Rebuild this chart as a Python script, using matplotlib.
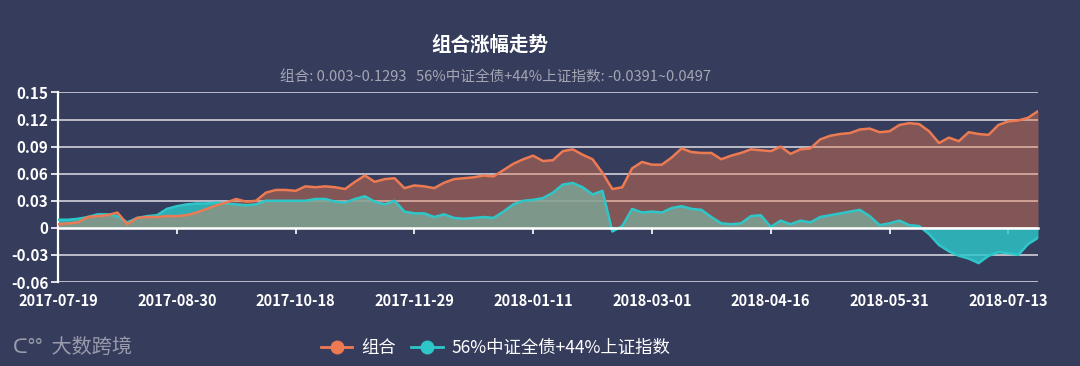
import numpy as np
import matplotlib
matplotlib.use('Agg')
import matplotlib.pyplot as plt
from matplotlib.lines import Line2D

plt.rcParams['font.family'] = ['Noto Sans CJK SC', 'DejaVu Sans']

# x-axis labels (every 12th point)
dates = ['2017-07-19', '2017-08-30', '2017-10-18', '2017-11-29', '2018-01-11',
         '2018-03-01', '2018-04-16', '2018-05-31', '2018-07-13']

# 组合
portfolio = [0.004, 0.005, 0.006, 0.012, 0.013, 0.014, 0.017, 0.004, 0.011, 0.012,
             0.012, 0.013, 0.013, 0.014, 0.017, 0.021, 0.025, 0.028, 0.032, 0.029,
             0.030, 0.039, 0.042, 0.042, 0.041, 0.046, 0.045, 0.046, 0.045, 0.043,
             0.051, 0.058, 0.051, 0.054, 0.055, 0.044, 0.047, 0.046, 0.044, 0.050,
             0.054, 0.055, 0.056, 0.058, 0.057, 0.064, 0.071, 0.076, 0.080, 0.074,
             0.075, 0.085, 0.087, 0.081, 0.076, 0.061, 0.043, 0.045, 0.066, 0.073,
             0.070, 0.070, 0.078, 0.088, 0.084, 0.083, 0.083, 0.076, 0.080, 0.083,
             0.087, 0.086, 0.085, 0.090, 0.082, 0.087, 0.088, 0.098, 0.102, 0.104,
             0.105, 0.109, 0.110, 0.106, 0.107, 0.114, 0.116, 0.115, 0.107, 0.094,
             0.100, 0.096, 0.106, 0.104, 0.103, 0.114, 0.118, 0.119, 0.122, 0.1293]

# 56%中证全债+44%上证指数
benchmark = [0.009, 0.009, 0.010, 0.012, 0.015, 0.015, 0.013, 0.006, 0.011, 0.013,
             0.014, 0.021, 0.024, 0.026, 0.027, 0.027, 0.028, 0.027, 0.026, 0.025,
             0.026, 0.030, 0.030, 0.030, 0.030, 0.030, 0.032, 0.032, 0.029, 0.028,
             0.032, 0.035, 0.029, 0.026, 0.030, 0.018, 0.016, 0.016, 0.012, 0.015,
             0.011, 0.010, 0.011, 0.012, 0.011, 0.018, 0.026, 0.030, 0.031, 0.033,
             0.039, 0.048, 0.0497, 0.045, 0.037, 0.041, -0.004, 0.002, 0.021, 0.017,
             0.018, 0.017, 0.022, 0.024, 0.021, 0.020, 0.012, 0.005, 0.004, 0.005,
             0.013, 0.014, 0.001, 0.008, 0.004, 0.008, 0.006, 0.012, 0.014, 0.016,
             0.018, 0.020, 0.013, 0.003, 0.005, 0.008, 0.003, 0.002, -0.007, -0.019,
             -0.026, -0.031, -0.034, -0.0391, -0.031, -0.027, -0.028, -0.030, -0.018, -0.011]

yticks = [-0.06, -0.03, 0, 0.03, 0.06, 0.09, 0.12, 0.15]
ylabels = ['-0.06', '-0.03', '0', '0.03', '0.06', '0.09', '0.12', '0.15']

bg = '#363c5c'
orange = '#ec7a52'
teal = '#2ec7c9'

x = np.arange(len(portfolio))
tick_idx = np.arange(0, len(portfolio), 12)

fig = plt.figure(figsize=(10.8, 3.66), dpi=100, facecolor=bg)
ax = fig.add_axes([58 / 1080, 0.2295, 980 / 1080, 0.5178], facecolor=bg)

ax.fill_between(x, benchmark, 0, color=teal, alpha=0.82, lw=0, zorder=2)
ax.fill_between(x, portfolio, 0, color=orange, alpha=0.42, lw=0, zorder=3)
ax.plot(x, benchmark, color=teal, lw=1.8, zorder=4)
ax.plot(x, portfolio, color=orange, lw=1.8, zorder=5)

ax.set_xlim(0, len(portfolio) - 1)
ax.set_ylim(-0.06, 0.15)
ax.set_yticks(yticks, labels=ylabels)
ax.grid(axis='y', color='#d2d2da', lw=1.2, zorder=1)
ax.set_axisbelow(True)

for s in ['top', 'right']:
    ax.spines[s].set_visible(False)
ax.spines['left'].set_color('white')
ax.spines['left'].set_linewidth(1.6)
ax.spines['bottom'].set_position(('data', 0))
ax.spines['bottom'].set_color('white')
ax.spines['bottom'].set_linewidth(1.8)
ax.spines['bottom'].set_zorder(6)

ax.tick_params(axis='y', colors='white', labelsize=11, length=5, width=1.2, pad=2)
for t in ax.get_yticklabels():
    t.set_fontweight('semibold')
ax.set_xticks(tick_idx)
ax.tick_params(axis='x', colors='white', length=4, width=1.2, labelbottom=False)

sec = ax.secondary_xaxis('bottom')
sec.set_xticks(tick_idx, labels=dates)
sec.tick_params(length=0, colors='white', labelsize=10.5, pad=8)
for t in sec.get_xticklabels():
    t.set_fontweight('semibold')
sec.spines['bottom'].set_visible(False)

fig.text(0.454, 0.877, '组合涨幅走势', color='white', fontsize=14,
         fontweight='bold', ha='center', va='center')
fig.text(0.459, 0.79, '组合: 0.003~0.1293   56%中证全债+44%上证指数: -0.0391~0.0497',
         color='#a4a6b2', fontsize=10.5, ha='center', va='center')

handles = [Line2D([], [], color=orange, lw=2, marker='o', markersize=9),
           Line2D([], [], color=teal, lw=2, marker='o', markersize=9)]
fig.legend(handles, ['组合', '56%中证全债+44%上证指数'], loc='center',
           bbox_to_anchor=(0.459, 0.05), ncol=2, frameon=False, fontsize=12.5,
           labelcolor='white', handlelength=1.8, columnspacing=0.9, handletextpad=0.5)

fig.text(0.012, 0.05, 'ᑕ°°  大数跨境', color='#9a9cab', fontsize=14.5, ha='left', va='center')

fig.savefig('out.png', dpi=100, facecolor=bg)
